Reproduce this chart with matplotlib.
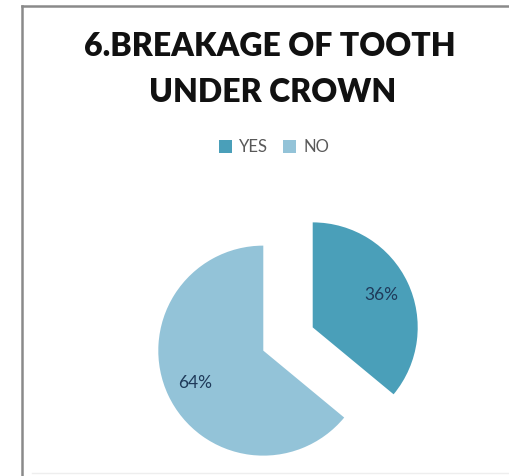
import matplotlib
matplotlib.use("Agg")
import matplotlib.pyplot as plt
from matplotlib.patches import Patch
from matplotlib.lines import Line2D

categories = ["YES", "NO"]
values = [36, 64]
colors = ["#4A9FB9", "#93C3D8"]
title_lines = ["6.BREAKAGE OF TOOTH", "UNDER CROWN"]

W, H = 510, 476
R = 105
fig = plt.figure(figsize=(W / 100, H / 100), dpi=100)
ax = fig.add_axes([0, 0, 1, 1])

wedges, texts, autotexts = ax.pie(
    values, colors=colors, startangle=90, counterclock=False,
    explode=[0.26 * R, 0.26 * R], radius=R, center=(288, H - 339),
    autopct="%d%%", pctdistance=0.72,
    textprops=dict(color="#1F3A5A", fontsize=12.5, family="Lato"),
    wedgeprops=dict(linewidth=0),
)
ax.set_xlim(0, W)
ax.set_ylim(0, H)
ax.set_aspect("equal")
ax.axis("off")

# frame lines
ax.add_line(Line2D([22, 22], [0, H - 5.5], color="#8a8a8a", lw=1.8))
ax.add_line(Line2D([22, W], [H - 5.5, H - 5.5], color="#8a8a8a", lw=1.8))
ax.add_line(Line2D([32, W], [3, 3], color="#eeeeee", lw=1))

# title
ax.text(270, H - 46.5, title_lines[0], ha="center", va="center",
        fontsize=23, fontweight="heavy", family="Lato", color="#111111")
ax.text(273, H - 93, title_lines[1], ha="center", va="center",
        fontsize=23, fontweight="heavy", family="Lato", color="#111111")

handles = [Patch(facecolor=c, edgecolor="none", label=l) for c, l in zip(colors, categories)]
leg = ax.legend(handles=handles, loc="center", bbox_to_anchor=(274 / W, 1 - 147 / H),
                ncol=2, frameon=False, handlelength=0.8, handleheight=0.8,
                handletextpad=0.4, columnspacing=0.9,
                prop=dict(family="Lato", size=12))
for t in leg.get_texts():
    t.set_color("#595959")

fig.savefig("out.png", dpi=100, facecolor="white")
